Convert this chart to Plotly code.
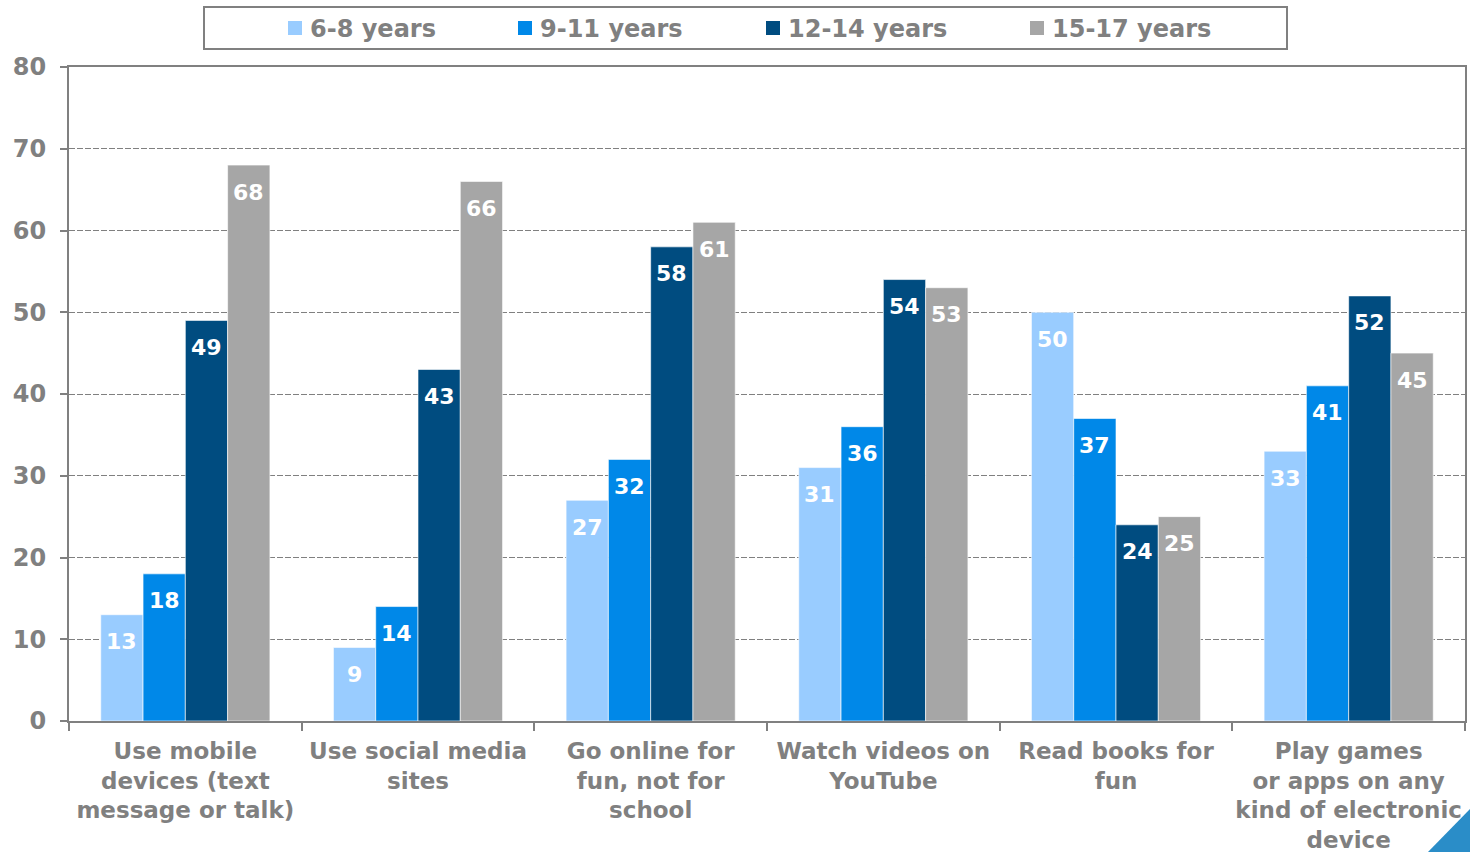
import plotly.graph_objects as go

# Activity categories (multi-line tick labels)
categories = [
    "Use mobile<br>devices (text<br>message or talk)",
    "Use social media<br>sites",
    "Go online for<br>fun, not for<br>school",
    "Watch videos on<br>YouTube",
    "Read books for<br>fun",
    "Play games<br>or apps on any<br>kind of electronic<br>device",
]

# Share of children per age group (%)
age_groups = ["6-8 years", "9-11 years", "12-14 years", "15-17 years"]
vals_6_8 = [13, 9, 27, 31, 50, 33]
vals_9_11 = [18, 14, 32, 36, 37, 41]
vals_12_14 = [49, 43, 58, 54, 24, 52]
vals_15_17 = [68, 66, 61, 53, 25, 45]
series = [vals_6_8, vals_9_11, vals_12_14, vals_15_17]

y_ticks = [0, 10, 20, 30, 40, 50, 60, 70, 80]

colors = ["#99CCFF", "#0088E8", "#004C80", "#A6A6A6"]
FONT = "DejaVu Sans"
GREY = "#808080"

W, H = 1470, 852
M_L, M_R, M_T, M_B = 69, 5, 67, 131
plot_w = W - M_L - M_R
plot_h = H - M_T - M_B
BARGAP = 0.273
bar_px = plot_w / len(categories) * (1 - BARGAP) / len(series)


def px(x):
    """pixel x -> paper x"""
    return (x - M_L) / plot_w


def py(y):
    """pixel y (from top) -> paper y"""
    return (H - M_B - y) / plot_h


fig = go.Figure()
for name, vals, col in zip(age_groups, series, colors):
    fig.add_trace(go.Bar(
        name=name, x=categories, y=vals, showlegend=False,
        marker=dict(color=col, line=dict(color="rgba(255,255,255,0.6)", width=1)),
    ))

# value labels just inside the top of each bar
annotations = []
for i, vals in enumerate(series):
    shift = (i - (len(series) - 1) / 2) * bar_px
    for cat, v in zip(categories, vals):
        annotations.append(dict(
            x=cat, y=v, xref="x", yref="y", text=f"<b>{v}</b>",
            showarrow=False, xshift=shift, yshift=-27,
            font=dict(family=FONT, size=22, color="white"),
        ))

# legend box across the top
shapes = [dict(
    type="rect", xref="paper", yref="paper", layer="above",
    x0=px(204), x1=px(1287), y0=py(49), y1=py(7),
    line=dict(color=GREY, width=2), fillcolor="white",
)]
legend_text_x = [308, 538, 786, 1050]
for name, col, tx in zip(age_groups, colors, legend_text_x):
    shapes.append(dict(
        type="rect", xref="paper", yref="paper", layer="above",
        x0=px(tx - 20), x1=px(tx - 6), y0=py(35), y1=py(21),
        fillcolor=col, line=dict(width=0),
    ))
    annotations.append(dict(
        x=px(tx), y=py(29), xref="paper", yref="paper",
        xanchor="left", yanchor="middle", showarrow=False,
        text=f"<b>{name}</b>",
        font=dict(family=FONT, size=24, color=GREY),
    ))

# corner accent
shapes.append(dict(
    type="path", xref="paper", yref="paper", layer="above",
    path=f"M {px(1427)} {py(853)} L {px(1471)} {py(853)} L {px(1471)} {py(808)} Z",
    fillcolor="#2A8DC8", line=dict(width=0),
))

fig.update_layout(
    width=W, height=H,
    margin=dict(l=M_L, r=M_R, t=M_T, b=M_B, pad=0, autoexpand=False),
    paper_bgcolor="white", plot_bgcolor="white",
    barmode="group", bargap=BARGAP, bargroupgap=0,
    font=dict(family=FONT, size=24, color=GREY),
    showlegend=False,
    annotations=annotations,
    shapes=shapes,
)
fig.update_xaxes(
    automargin=False,
    tickson="boundaries", ticks="outside", ticklen=8, tickcolor=GREY, tickwidth=2,
    showline=True, linecolor=GREY, linewidth=2, mirror=True,
    showgrid=False,
    tickfont=dict(family=FONT, size=23, color=GREY, weight="bold"),
    tickangle=0, ticklabelstandoff=8,
)
fig.update_yaxes(
    automargin=False,
    range=[0, 80], tickvals=y_ticks, ticks="outside", ticklen=7, tickcolor=GREY, tickwidth=2,
    showline=True, linecolor=GREY, linewidth=2, mirror=True,
    showgrid=True, gridcolor=GREY, griddash="6px,2px", gridwidth=1,
    zeroline=False,
    tickfont=dict(family=FONT, size=24, color=GREY, weight="bold"),
    ticklabelstandoff=9,
)

fig.write_html("out.html")
